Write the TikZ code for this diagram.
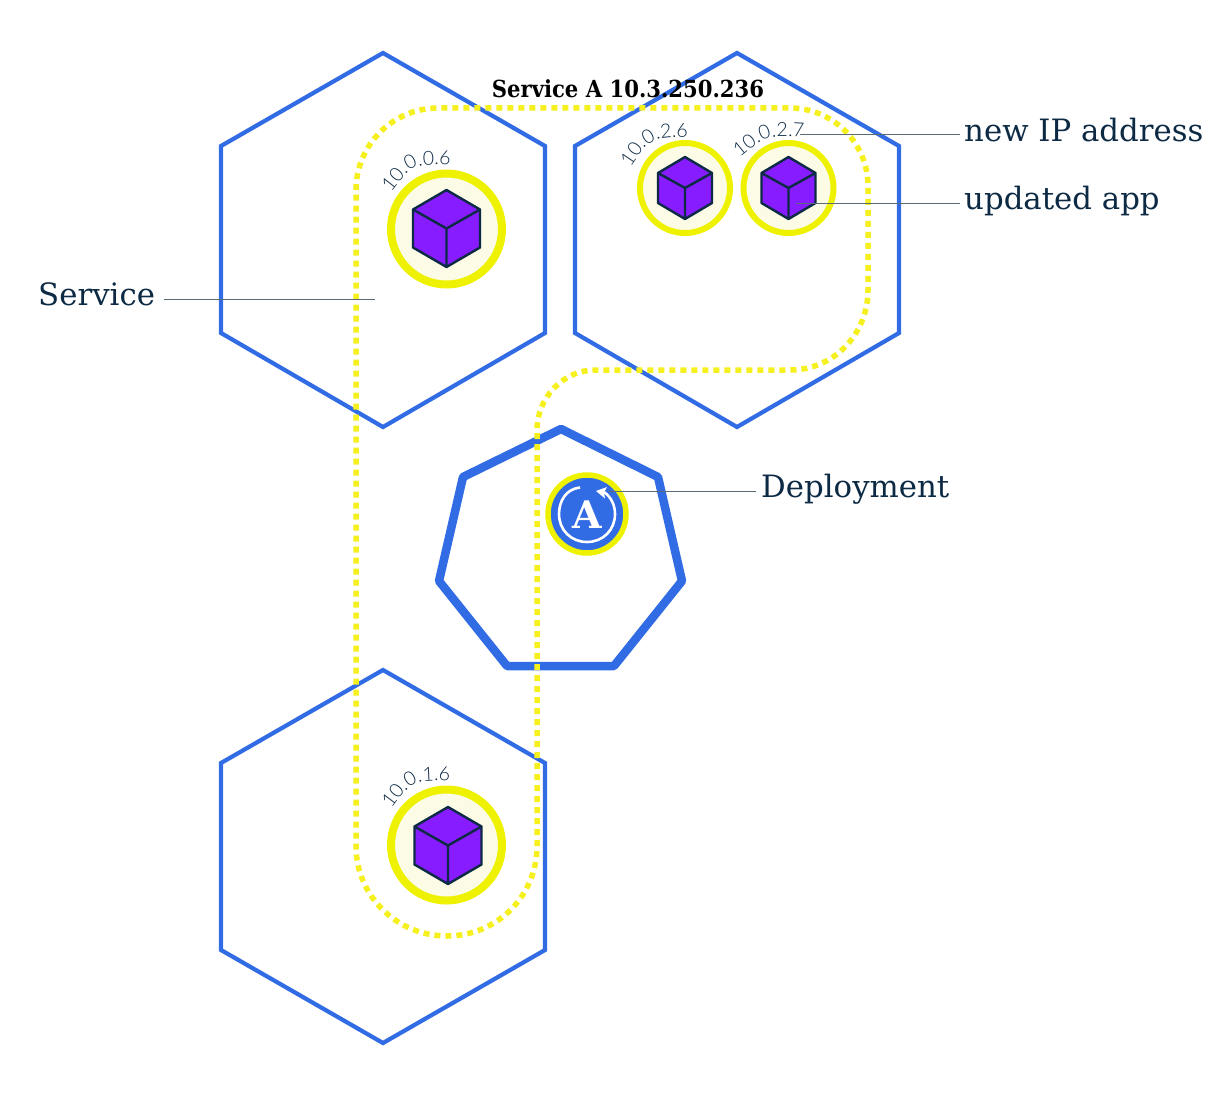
\documentclass[tikz,border=0pt]{standalone}
\usepackage{fontspec}
\usetikzlibrary{decorations.text}
\setmainfont{DejaVu Serif}
\newfontfamily\ipfont{Lato Light}
\newfontfamily\titlefont[FakeStretch=0.9]{DejaVu Serif}
\definecolor{kblue}{HTML}{326CE5}
\definecolor{kyellow}{HTML}{EEF200}
\definecolor{kdot}{HTML}{F5F01E}
\definecolor{kpale}{HTML}{FBFBE6}
\definecolor{kcube}{HTML}{861CFF}
\definecolor{kink}{HTML}{0D2A45}
\definecolor{kline}{HTML}{5A6B78}
\tikzset{
 hexa/.style={draw=kblue,line width=4.2pt,line join=miter},
 hepta/.style={draw=kblue,line width=8.5pt,line join=round},
 svc/.style={draw=kdot,line width=5.5pt,dash pattern=on 6pt off 5pt},
 leader/.style={draw=kline,line width=1pt},
 lab/.style={text=kink,anchor=base west,inner sep=0pt,font=\fontsize{30.8}{34}\selectfont},
 podbig/.style={circle,draw=kyellow,fill=kpale,line width=8pt,minimum size=111pt,inner sep=0pt},
 podsmall/.style={circle,draw=kyellow,fill=kpale,line width=6pt,minimum size=90pt,inner sep=0pt},
 cubeface/.style={draw=kink,fill=kcube,line width=2.4pt,line join=round},
 cubeedge/.style={draw=kink,line width=2.4pt,line join=round},
}
\newcommand{\cubebig}[2]{%
 \path[cubeface] (#1,#2-38.5)--(#1+33.5,#2-19)--(#1+33.5,#2+19)--(#1,#2+38.5)--(#1-33.5,#2+19)--(#1-33.5,#2-19)--cycle;
 \path[cubeedge] (#1-33.5,#2-19)--(#1,#2)--(#1+33.5,#2-19) (#1,#2)--(#1,#2+38.5);}
\newcommand{\cubesmall}[2]{%
 \path[cubeface] (#1,#2-31)--(#1+27,#2-15)--(#1+27,#2+15)--(#1,#2+31)--(#1-27,#2+15)--(#1-27,#2-15)--cycle;
 \path[cubeedge] (#1-27,#2-15)--(#1,#2)--(#1+27,#2-15) (#1,#2)--(#1,#2+31);}
\newcommand{\iplabel}[4]{%
 \path[decorate,decoration={text along path,text align=center,text={|\ipfont\fontsize{19.5}{22}\selectfont\color{kink}|#4}}] #1 .. controls #2 .. #3;}
\begin{document}
\begin{tikzpicture}[x=1pt,y=-1pt]
\useasboundingbox (0,0) rectangle (1230,1094);
\fill[white] (0,0) rectangle (1230,1094);
% nodes of the cluster
\path[hexa] (383,53)--(545,146)--(545,333)--(383,427)--(221,333)--(221,146)--cycle;
\path[hexa] (737,53)--(899,146)--(899,333)--(737,427)--(575,333)--(575,146)--cycle;
\path[hexa] (383,670)--(545,763)--(545,950)--(383,1043)--(221,950)--(221,763)--cycle;
\path[hepta] (561,429)--(658,477)--(682,581)--(614,666)--(507,666)--(439,581)--(463,477)--cycle;
% service outline
\path[svc] (356,190) .. controls (356,145) and (393,108) .. (438,108)
 -- (790,108) .. controls (833,108) and (868,143) .. (868,186)
 -- (868,290) .. controls (868,334) and (834,370) .. (790,370)
 -- (595,370) .. controls (563,370) and (537,398) .. (537,430)
 -- (537,846) .. controls (537,896) and (497,936) .. (447,936)
 .. controls (397,936) and (356,896) .. (356,846) -- cycle;
% pods
\node[podbig] (pa) at (446.5,229) {};
\node[podsmall] (pb) at (685,188) {};
\node[podsmall] (pc) at (788.5,188) {};
\node[podbig] (pd) at (446.5,845) {};
\cubebig{446.5}{228.5}
\cubesmall{685}{188}
\cubesmall{788.5}{188}
\cubebig{448}{845.5}
\iplabel{(392,191)}{(413,164)}{(449,165)}{10.0.0.6}
\iplabel{(392,808)}{(413,780)}{(449,781)}{10.0.1.6}
\iplabel{(630,168)}{(650,138)}{(689,137)}{10.0.2.6}
\iplabel{(739,158)}{(767,135)}{(805,137)}{10.0.2.7}
% deployment
\node[circle,draw=kyellow,fill=kblue,line width=5.5pt,minimum size=78pt,inner sep=0pt] (dep) at (587,514) {};
\draw[white,line width=2.6pt] (580,487.5) .. controls (566,489) and (559,501) .. (559,514)
 .. controls (559,530) and (571,542) .. (587,542)
 .. controls (603,542) and (615,530) .. (615,514)
 .. controls (615,505) and (611,497) .. (604,492);
\fill[white] (596,491) -- (607,487) -- (604,492.5) -- (605,498.5) -- cycle;
\node[text=white,inner sep=0pt,anchor=base,font=\fontsize{38}{40}\selectfont\bfseries] (depA) at (587,528.5) {A};
% labels
\node[anchor=base,inner sep=0pt,text=black,font=\titlefont\fontsize{23.5}{26}\selectfont\bfseries] (title) at (628,97.5) {Service A 10.3.250.236};
\node[lab] (lService) at (38,305) {Service};
\node[lab] (lIP) at (964,142) {new IP address};
\node[lab] (lApp) at (964,209) {updated app};
\node[lab] (lDep) at (761,497) {Deployment};
% leaders
\coordinate (cService) at (375,299);
\coordinate (cIP) at (800,135);
\coordinate (cApp) at (796,203);
\coordinate (cDep) at (608,491);
\draw[leader] ([xshift=9pt]lService.east |- cService) -- (cService);
\draw[leader] (cIP) -- ([xshift=-4pt]lIP.west |- cIP);
\draw[leader] (cApp) -- ([xshift=-4pt]lApp.west |- cApp);
\draw[leader] (cDep) -- ([xshift=-5pt]lDep.west |- cDep);
\end{tikzpicture}
\end{document}
